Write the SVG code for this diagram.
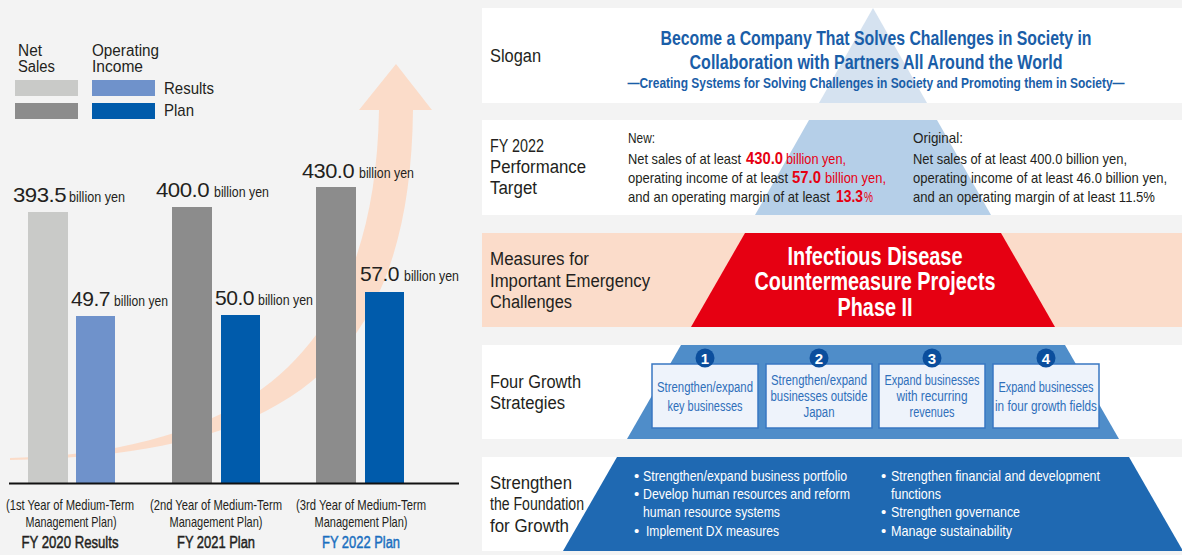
<svg xmlns="http://www.w3.org/2000/svg" width="1182" height="555" viewBox="0 0 1182 555">
<style>
text{font-family:'Liberation Sans Narrow','Liberation Sans',Arial,sans-serif;fill:#231f20;}
.t{font-size:16px;}
.lab{font-size:18px;}
.num{font-family:'Liberation Sans',Arial,sans-serif;font-size:21px;letter-spacing:-0.5px;}
.by{font-size:15.5px;}
.cap{font-size:15px;}
.fy{font-size:16px;stroke:#231f20;stroke-width:0.45px;}
.fyb{fill:#1a6fc0;stroke:#1a6fc0;}
.slog{font-size:20px;font-weight:bold;fill:#1a5ea8;}
.slog2{font-size:14px;font-weight:bold;fill:#1a5ea8;}
.tg{font-size:15px;}
.red{fill:#e60012;}
.rb{font-size:16px;font-weight:bold;fill:#e60012;}
.ph{font-size:25px;font-weight:bold;fill:#ffffff;}
.box{fill:#eef3fb;stroke:#3877c2;stroke-width:1.5;}
.bt{font-size:14px;fill:#2f6fba;}
.circ{fill:#0b4e9d;}
.cn{font-family:'Liberation Sans',Arial,sans-serif;font-size:15px;font-weight:bold;fill:#ffffff;}
.wb{font-size:15px;fill:#ffffff;}
.band{fill:#ffffff;}
</style>
<rect x="0" y="0" width="1182" height="555" fill="#f3f3f3"/>

<g id="connectors">
<path id="growth-arrow" d="M10,458 C250,452 375,350 379,110 L359,110 L396,64 L432,110 L413,110 C410,380 270,455 10,460 Z" fill="#fbdcc9"/>
</g>

<g id="legend">
<text class="t" x="18" y="56" textLength="24" lengthAdjust="spacingAndGlyphs">Net</text>
<text class="t" x="18" y="72" textLength="37" lengthAdjust="spacingAndGlyphs">Sales</text>
<text class="t" x="92" y="56" textLength="67" lengthAdjust="spacingAndGlyphs">Operating</text>
<text class="t" x="92" y="72" textLength="51" lengthAdjust="spacingAndGlyphs">Income</text>
<rect x="15" y="80" width="63" height="16" fill="#c9cac8"/>
<rect x="92" y="80" width="63" height="16" fill="#6f92cb"/>
<rect x="15" y="103" width="63" height="16" fill="#8c8c8c"/>
<rect x="92" y="103" width="63" height="16" fill="#005bab"/>
<text class="t" x="164" y="94" textLength="50" lengthAdjust="spacingAndGlyphs" style="font-size:17px">Results</text>
<text class="t" x="164" y="116" textLength="30" lengthAdjust="spacingAndGlyphs" style="font-size:17px">Plan</text>
</g>

<g id="bars">
<rect x="28" y="212" width="40" height="271" fill="#c9cac8"/>
<rect x="76" y="316" width="39" height="167" fill="#6f92cb"/>
<rect x="172" y="207" width="40" height="276" fill="#8c8c8c"/>
<rect x="221" y="315" width="39" height="168" fill="#005bab"/>
<rect x="316" y="187" width="40" height="296" fill="#8c8c8c"/>
<rect x="365" y="292" width="39" height="191" fill="#005bab"/>
<line x1="9" y1="483.5" x2="459" y2="483.5" stroke="#111" stroke-width="2"/>
</g>

<g id="bar-values">
<text class="num" x="13" y="202" textLength="53" lengthAdjust="spacingAndGlyphs">393.5</text>
<text class="by" x="69" y="202" textLength="56" lengthAdjust="spacingAndGlyphs">billion yen</text>
<text class="num" x="156" y="197" textLength="53" lengthAdjust="spacingAndGlyphs">400.0</text>
<text class="by" x="214" y="197" textLength="55" lengthAdjust="spacingAndGlyphs">billion yen</text>
<text class="num" x="302" y="178" textLength="52" lengthAdjust="spacingAndGlyphs">430.0</text>
<text class="by" x="359" y="178" textLength="55" lengthAdjust="spacingAndGlyphs">billion yen</text>
<text class="num" x="71" y="306" textLength="39" lengthAdjust="spacingAndGlyphs">49.7</text>
<text class="by" x="114" y="306" textLength="54" lengthAdjust="spacingAndGlyphs">billion yen</text>
<text class="num" x="215" y="305" textLength="39" lengthAdjust="spacingAndGlyphs">50.0</text>
<text class="by" x="258" y="305" textLength="55" lengthAdjust="spacingAndGlyphs">billion yen</text>
<text class="num" x="360" y="281" textLength="39" lengthAdjust="spacingAndGlyphs">57.0</text>
<text class="by" x="404" y="281" textLength="55" lengthAdjust="spacingAndGlyphs">billion yen</text>
</g>

<g id="year-labels" text-anchor="middle">
<text class="cap" x="70" y="510" textLength="128" lengthAdjust="spacingAndGlyphs">(1st Year of Medium-Term</text>
<text class="cap" x="71" y="527" textLength="91" lengthAdjust="spacingAndGlyphs">Management Plan)</text>
<text class="fy" x="70" y="548" textLength="97" lengthAdjust="spacingAndGlyphs">FY 2020 Results</text>
<text class="cap" x="216" y="510" textLength="132" lengthAdjust="spacingAndGlyphs">(2nd Year of Medium-Term</text>
<text class="cap" x="216" y="527" textLength="93" lengthAdjust="spacingAndGlyphs">Management Plan)</text>
<text class="fy" x="216" y="548" textLength="78" lengthAdjust="spacingAndGlyphs">FY 2021 Plan</text>
<text class="cap" x="361" y="510" textLength="130" lengthAdjust="spacingAndGlyphs">(3rd Year of Medium-Term</text>
<text class="cap" x="361" y="527" textLength="93" lengthAdjust="spacingAndGlyphs">Management Plan)</text>
<text class="fy fyb" x="361" y="548" textLength="78" lengthAdjust="spacingAndGlyphs">FY 2022 Plan</text>
</g>

<g id="bands">
<rect class="band" x="482" y="8" width="700" height="95"/>
<rect class="band" x="482" y="120" width="700" height="95"/>
<rect x="482" y="233" width="700" height="94" fill="#fbdcca"/>
<rect class="band" x="482" y="345" width="700" height="94"/>
<rect class="band" x="482" y="457" width="700" height="94"/>
</g>

<g id="slogan">
<polygon points="873,8 927,103 819,103" fill="#d5e2f0"/>
<text class="lab" x="490" y="62" textLength="51" lengthAdjust="spacingAndGlyphs">Slogan</text>
<g text-anchor="middle">
<text class="slog" x="876" y="45" textLength="431" lengthAdjust="spacingAndGlyphs">Become a Company That Solves Challenges in Society in</text>
<text class="slog" x="876" y="69" textLength="373" lengthAdjust="spacingAndGlyphs">Collaboration with Partners All Around the World</text>
<text class="slog2" x="876" y="88" textLength="497" lengthAdjust="spacingAndGlyphs">—Creating Systems for Solving Challenges in Society and Promoting them in Society—</text>
</g>
</g>

<g id="target">
<polygon points="809,120 937,120 991,215 755,215" fill="#b5cfe8"/>
<text class="lab" x="490" y="152" textLength="54" lengthAdjust="spacingAndGlyphs">FY 2022</text>
<text class="lab" x="490" y="173" textLength="96" lengthAdjust="spacingAndGlyphs">Performance</text>
<text class="lab" x="490" y="194" textLength="47" lengthAdjust="spacingAndGlyphs">Target</text>
<text class="tg" x="628" y="143" textLength="27" lengthAdjust="spacingAndGlyphs">New:</text>
<text class="tg" x="628" y="164" textLength="113" lengthAdjust="spacingAndGlyphs">Net sales of at least</text>
<text class="rb" x="746" y="164" textLength="37" lengthAdjust="spacingAndGlyphs">430.0</text>
<text class="tg red" x="786" y="164" textLength="60" lengthAdjust="spacingAndGlyphs">billion yen,</text>
<text class="tg" x="628" y="183" textLength="160" lengthAdjust="spacingAndGlyphs">operating income of at least</text>
<text class="rb" x="792" y="183" textLength="29" lengthAdjust="spacingAndGlyphs">57.0</text>
<text class="tg red" x="825" y="183" textLength="61" lengthAdjust="spacingAndGlyphs">billion yen,</text>
<text class="tg" x="628" y="202" textLength="202" lengthAdjust="spacingAndGlyphs">and an operating margin of at least</text>
<text class="rb" x="836" y="202" textLength="27" lengthAdjust="spacingAndGlyphs">13.3</text>
<text class="tg red" x="864" y="202" textLength="9" lengthAdjust="spacingAndGlyphs">%</text>
<text class="tg" x="913" y="143" textLength="50" lengthAdjust="spacingAndGlyphs">Original:</text>
<text class="tg" x="913" y="164" textLength="214" lengthAdjust="spacingAndGlyphs">Net sales of at least 400.0 billion yen,</text>
<text class="tg" x="913" y="183" textLength="254" lengthAdjust="spacingAndGlyphs">operating income of at least 46.0 billion yen,</text>
<text class="tg" x="913" y="202" textLength="242" lengthAdjust="spacingAndGlyphs">and an operating margin of at least 11.5%</text>
</g>

<g id="emergency">
<polygon points="745,233 1001,233 1055,327 691,327" fill="#e60012"/>
<text class="lab" x="490" y="265" textLength="99" lengthAdjust="spacingAndGlyphs">Measures for</text>
<text class="lab" x="490" y="287" textLength="160" lengthAdjust="spacingAndGlyphs">Important Emergency</text>
<text class="lab" x="490" y="308" textLength="82" lengthAdjust="spacingAndGlyphs">Challenges</text>
<g text-anchor="middle">
<text class="ph" x="875" y="265" textLength="175" lengthAdjust="spacingAndGlyphs">Infectious Disease</text>
<text class="ph" x="875" y="290" textLength="241" lengthAdjust="spacingAndGlyphs">Countermeasure Projects</text>
<text class="ph" x="875" y="316" textLength="75" lengthAdjust="spacingAndGlyphs">Phase II</text>
</g>
</g>

<g id="growth-strategies">
<polygon points="681,345 1065,345 1119,439 627,439" fill="#4f8dc9"/>
<text class="lab" x="490" y="388" textLength="91" lengthAdjust="spacingAndGlyphs">Four Growth</text>
<text class="lab" x="490" y="409" textLength="75" lengthAdjust="spacingAndGlyphs">Strategies</text>
</g>

<g id="strategy-1" text-anchor="middle">
<rect class="box" x="652" y="364" width="106" height="64"/>
<circle class="circ" cx="705" cy="358" r="9.5"/>
<text class="cn" x="705" y="363.5">1</text>
<text class="bt" x="705" y="392" textLength="96" lengthAdjust="spacingAndGlyphs">Strengthen/expand</text>
<text class="bt" x="705" y="411" textLength="75" lengthAdjust="spacingAndGlyphs">key businesses</text>
</g>
<g id="strategy-2" text-anchor="middle">
<rect class="box" x="766" y="364" width="106" height="64"/>
<circle class="circ" cx="819" cy="358" r="9.5"/>
<text class="cn" x="819" y="363.5">2</text>
<text class="bt" x="819" y="385" textLength="96" lengthAdjust="spacingAndGlyphs">Strengthen/expand</text>
<text class="bt" x="819" y="401" textLength="97" lengthAdjust="spacingAndGlyphs">businesses outside</text>
<text class="bt" x="819" y="417" textLength="31" lengthAdjust="spacingAndGlyphs">Japan</text>
</g>
<g id="strategy-3" text-anchor="middle">
<rect class="box" x="879" y="364" width="106" height="64"/>
<circle class="circ" cx="932" cy="358" r="9.5"/>
<text class="cn" x="932" y="363.5">3</text>
<text class="bt" x="932" y="385" textLength="95" lengthAdjust="spacingAndGlyphs">Expand businesses</text>
<text class="bt" x="932" y="401" textLength="71" lengthAdjust="spacingAndGlyphs">with recurring</text>
<text class="bt" x="932" y="417" textLength="45" lengthAdjust="spacingAndGlyphs">revenues</text>
</g>
<g id="strategy-4" text-anchor="middle">
<rect class="box" x="993" y="364" width="106" height="64"/>
<circle class="circ" cx="1046" cy="358" r="9.5"/>
<text class="cn" x="1046" y="363.5">4</text>
<text class="bt" x="1046" y="392" textLength="95" lengthAdjust="spacingAndGlyphs">Expand businesses</text>
<text class="bt" x="1046" y="411" textLength="102" lengthAdjust="spacingAndGlyphs">in four growth fields</text>
</g>

<g id="foundation">
<polygon points="617,457 1129,457 1183,551 563,551" fill="#1f69b2"/>
<text class="lab" x="490" y="489" textLength="82" lengthAdjust="spacingAndGlyphs">Strengthen</text>
<text class="lab" x="490" y="510" textLength="94" lengthAdjust="spacingAndGlyphs">the Foundation</text>
<text class="lab" x="490" y="532" textLength="79" lengthAdjust="spacingAndGlyphs">for Growth</text>
<text class="wb" x="634" y="481">•</text>
<text class="wb" x="643" y="481" textLength="204" lengthAdjust="spacingAndGlyphs">Strengthen/expand business portfolio</text>
<text class="wb" x="634" y="499">•</text>
<text class="wb" x="643" y="499" textLength="207" lengthAdjust="spacingAndGlyphs">Develop human resources and reform</text>
<text class="wb" x="643" y="517" textLength="137" lengthAdjust="spacingAndGlyphs">human resource systems</text>
<text class="wb" x="634" y="536">•</text>
<text class="wb" x="646" y="536" textLength="133" lengthAdjust="spacingAndGlyphs">Implement DX measures</text>
<text class="wb" x="881" y="481">•</text>
<text class="wb" x="891" y="481" textLength="209" lengthAdjust="spacingAndGlyphs">Strengthen financial and development</text>
<text class="wb" x="891" y="499" textLength="50" lengthAdjust="spacingAndGlyphs">functions</text>
<text class="wb" x="881" y="517">•</text>
<text class="wb" x="891" y="517" textLength="129" lengthAdjust="spacingAndGlyphs">Strengthen governance</text>
<text class="wb" x="881" y="536">•</text>
<text class="wb" x="891" y="536" textLength="121" lengthAdjust="spacingAndGlyphs">Manage sustainability</text>
</g>
</svg>
